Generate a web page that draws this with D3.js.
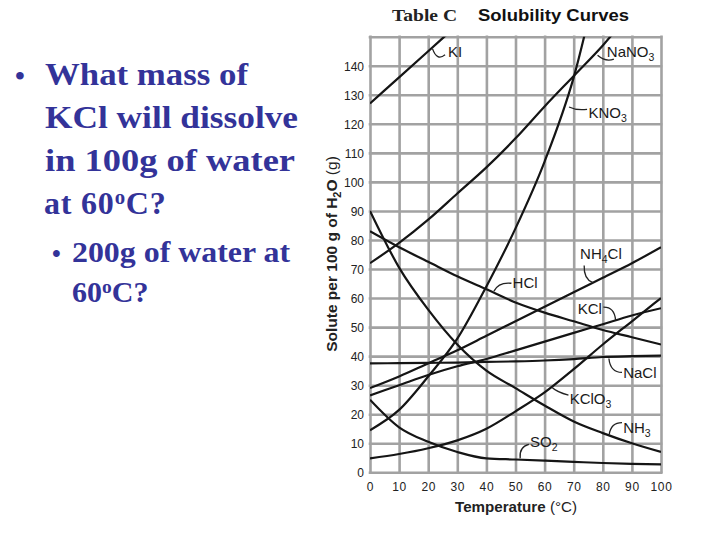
<!DOCTYPE html>
<html><head><meta charset="utf-8">
<script src="https://cdn.jsdelivr.net/npm/d3@7"></script>
<style>html,body{margin:0;padding:0;background:#fff;} svg{display:block;}</style>
</head><body>
<svg id="c" width="720" height="540"></svg>
<script>
// ---- data ----
const temps = [0,10,20,30,40,50,60,70,80,90,100];
const KI    = [127,136,145,154];
const NaNO3 = [72,79,87,96,105,115,126,136.5,147,159];
const KNO3  = [14.5,21.5,33,46,64,84,107,136,178];
const NH4Cl = [29,33,37.5,42,47,52,57,62,67,72,77.5];
const KCl   = [26.5,30,33.5,36.5,39,42,45,48,51,54,56.5];
const NaCl  = [37.5,37.6,37.7,37.8,38,38.2,38.5,39,39.7,40,40.2];
const KClO3 = [4.8,6.3,8.3,11,15,21,27.5,35.5,44,52,60];
const HCl   = [83,77.5,72.5,67.5,63,58.5,55,52,49,46.5,44];
const NH3   = [90,70.5,56,44,35,29,23,17.5,13.5,10,7];
const SO2   = [25,15.5,10.5,7,4.8,4.4,4,3.6,3.2,2.9,2.7];
const xTicks = [0,10,20,30,40,50,60,70,80,90,100];
const yTicks = [0,10,20,30,40,50,60,70,80,90,100,110,120,130,140];
const yGrid  = [0,10,20,30,40,50,60,70,80,90,100,110,120,130,140,150];

const seriesList = [
  {name:"KI", values:KI},{name:"NaNO3", values:NaNO3},{name:"KNO3", values:KNO3},
  {name:"NH4Cl", values:NH4Cl},{name:"KCl", values:KCl},{name:"NaCl", values:NaCl},
  {name:"KClO3", values:KClO3},{name:"HCl", values:HCl},{name:"NH3", values:NH3},{name:"SO2", values:SO2}
];
// curve labels: text anchor and leader (start, control, end) in data units
const labels = [
  {parts:[["KI",""]], t:26.8, s:143, lead:[[21.5,145.8],[23,141.5],[25.8,143.8]]},
  {parts:[["NaNO",""],["3","sub"]], t:81.4, s:143, lead:[[78.2,143.6],[81,141.2],[83.8,142.3]]},
  {parts:[["KNO",""],["3","sub"]], t:75.1, s:122, lead:[[68.4,125.8],[71,124.5],[74.6,125]]},
  {parts:[["NH",""],["4","sub"],["Cl",""]], t:72.2, s:73.6, lead:[[73.6,71.2],[73.4,66.5],[76.6,65.3]]},
  {parts:[["HCl",""]], t:49, s:63.6, lead:[[48.6,65.1],[44.2,65.6],[42.6,62.4]]},
  {parts:[["KCl",""]], t:71.4, s:54.6, lead:[[80.2,56.9],[84,57],[84.4,52.4]]},
  {parts:[["NaCl",""]], t:87, s:32.4, lead:[[86.6,34.4],[82.6,34.4],[82.1,39.2]]},
  {parts:[["KClO",""],["3","sub"]], t:68.6, s:23.4, lead:[[68.2,26.6],[64.2,27.6],[62.6,29.2]]},
  {parts:[["NH",""],["3","sub"]], t:87, s:13.7, lead:[[86.6,17.1],[82.8,17.1],[82.2,13]]},
  {parts:[["SO",""],["2","sub"]], t:55, s:8.6, lead:[[54.6,9.6],[51.2,8.8],[51.6,4.8]]}
];

// ---- chart ----
const svg = d3.select("#c");
const x = d3.scaleLinear().domain([0,100]).range([370,661]);
const y = d3.scaleLinear().domain([0,150]).range([472.3,36.7]);
const sans = "'Liberation Sans', Arial, Helvetica, sans-serif";
const serif = "'Liberation Serif', 'Times New Roman', serif";

// grid
const gridColor = "#a2a2a2";
svg.append("g").attr("transform",`translate(0,${y(0)})`)
  .call(d3.axisBottom(x).tickValues(xTicks).tickSize(-(y(0)-y(150))).tickFormat(""))
  .call(g=>{g.select(".domain").remove(); g.selectAll("line").attr("stroke",gridColor).attr("stroke-width",2.6).attr("stroke-linecap","square");});
svg.append("g").attr("transform",`translate(${x(0)},0)`)
  .call(d3.axisLeft(y).tickValues(yGrid).tickSize(-(x(100)-x(0))).tickFormat(""))
  .call(g=>{g.select(".domain").remove(); g.selectAll("line").attr("stroke",gridColor).attr("stroke-width",2.6).attr("stroke-linecap","square");});

// tick labels
svg.append("g").attr("transform",`translate(${x(0)},0)`)
  .call(d3.axisLeft(y).tickValues(yTicks).tickSize(0).tickPadding(6))
  .call(g=>{g.select(".domain").remove(); g.selectAll("text").attr("font-family",sans).attr("font-size",12).attr("fill","#222").attr("dy","0.37em");});
svg.append("g").attr("transform",`translate(0,${y(0)})`)
  .call(d3.axisBottom(x).tickValues(xTicks).tickSize(0).tickPadding(10.5))
  .call(g=>{g.select(".domain").remove(); g.selectAll("text").attr("font-family",sans).attr("font-size",12).attr("letter-spacing",0.6).attr("fill","#222");});

// curves
svg.append("defs").append("clipPath").attr("id","plot")
  .append("rect").attr("x",x(0)).attr("y",y(150)).attr("width",x(100)-x(0)).attr("height",y(0)-y(150));
const line = d3.line().x((d,i)=>x(temps[i])).y(d=>y(d)).curve(d3.curveMonotoneX);
svg.append("g").attr("clip-path","url(#plot)")
  .selectAll("path").data(seriesList).join("path")
  .attr("d",d=>line(d.values)).attr("fill","none").attr("stroke","#151515").attr("stroke-width",2.2);

// labels
const lg = svg.append("g");
labels.forEach(l=>{
  const p = d3.path();
  p.moveTo(x(l.lead[0][0]),y(l.lead[0][1]));
  p.quadraticCurveTo(x(l.lead[1][0]),y(l.lead[1][1]),x(l.lead[2][0]),y(l.lead[2][1]));
  lg.append("path").attr("d",p.toString()).attr("fill","none").attr("stroke","#222").attr("stroke-width",1.3);
  const t = lg.append("text").attr("x",x(l.t)).attr("y",y(l.s)).attr("font-family",sans).attr("font-size",15).attr("fill","#1a1a1a");
  let shifted=false;
  l.parts.forEach(([txt,kind])=>{
    const ts = t.append("tspan").text(txt);
    if(kind==="sub"){ ts.attr("font-size",10.5).attr("dy",4); shifted=true; }
    else if(shifted){ ts.attr("dy",-4); shifted=false; }
  });
});

// title
svg.append("text").attr("x",392).attr("y",21).attr("font-family",serif).attr("font-weight","bold")
  .attr("font-size",17).attr("fill","#222").attr("textLength",65).attr("lengthAdjust","spacingAndGlyphs").text("Table C");
svg.append("text").attr("x",478).attr("y",21).attr("font-family",sans).attr("font-weight","bold")
  .attr("font-size",16.5).attr("fill","#111").attr("textLength",151).attr("lengthAdjust","spacingAndGlyphs").text("Solubility Curves");

// axis titles
const xt = svg.append("text").attr("x",455).attr("y",512).attr("font-family",sans).attr("font-size",14.5).attr("fill","#222")
  .attr("textLength",122).attr("lengthAdjust","spacingAndGlyphs");
xt.append("tspan").attr("font-weight","bold").text("Temperature");
xt.append("tspan").text(" (°C)");
const yt = svg.append("text").attr("transform","translate(337,254) rotate(-90)").attr("text-anchor","middle")
  .attr("font-family",sans).attr("font-size",15.5).attr("fill","#222");
yt.append("tspan").attr("font-weight","bold").text("Solute per 100 g of H");
yt.append("tspan").attr("font-weight","bold").attr("font-size",11).attr("dy",4).text("2");
yt.append("tspan").attr("font-weight","bold").attr("dy",-4).text("O");
yt.append("tspan").text(" (g)");

// left question text
const blue = "#333399";
function qline(xp, yp, size, parts, len, ls){
  const t = svg.append("text").attr("x",xp).attr("y",yp).attr("font-family",serif).attr("font-weight","bold")
    .attr("font-size",size).attr("fill",blue);
  if(len) t.attr("textLength",len).attr("lengthAdjust","spacingAndGlyphs");
  if(ls) t.attr("letter-spacing",ls);
  let sup=false;
  parts.forEach(([txt,kind])=>{
    const ts=t.append("tspan").text(txt);
    if(kind==="sup"){ ts.attr("font-size",size*0.65).attr("dy",-size*0.3); sup=true; }
    else if(sup){ ts.attr("dy",size*0.3); sup=false; }
  });
  return t;
}
svg.append("text").attr("x",15).attr("y",85).attr("font-family",serif).attr("font-weight","bold").attr("font-size",28).attr("fill",blue).text("•");
qline(45,85,32,[["What mass of",""]],203);
qline(45,128,32,[["KCl will dissolve",""]],253);
qline(45,171,32,[["in 100g of water",""]],250);
qline(44,214,32,[["at 60",""],["o","sup"],["C?",""]],null,0.8);
svg.append("text").attr("x",52).attr("y",262).attr("font-family",serif).attr("font-weight","bold").attr("font-size",25).attr("fill",blue).text("•");
qline(72,262,30,[["200g of water at",""]],218);
qline(72,301.5,30,[["60",""],["o","sup"],["C?",""]]);
</script>
</body></html>
